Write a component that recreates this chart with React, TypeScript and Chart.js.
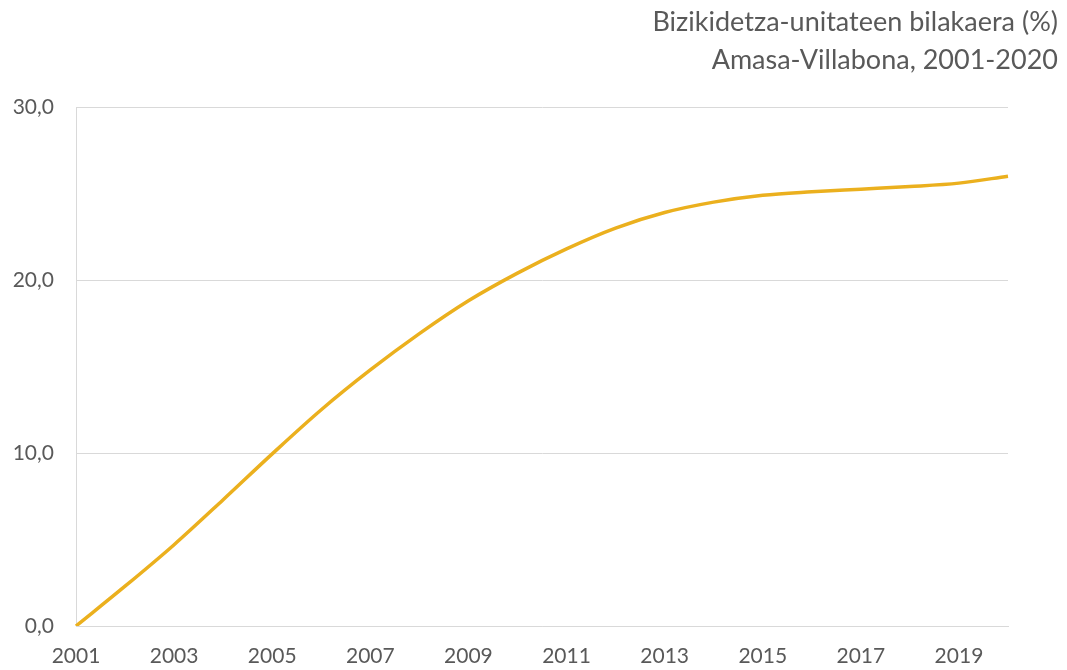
import React, { useEffect, useRef } from "react";
import { Chart, registerables } from "chart.js";

Chart.register(...registerables);

const years = [
  "2001", "2002", "2003", "2004", "2005", "2006", "2007", "2008", "2009", "2010",
  "2011", "2012", "2013", "2014", "2015", "2016", "2017", "2018", "2019", "2020",
];
const values = [
  0, 2.3, 4.7, 7.3, 9.95, 12.5, 14.8, 16.9, 18.8, 20.4,
  21.8, 23.0, 23.9, 24.5, 24.9, 25.1, 25.25, 25.4, 25.6, 26.0,
];
const titleLines = ["Bizikidetza-unitateen bilakaera (%)", "Amasa-Villabona, 2001-2020"];
const yTicks = [0, 10, 20, 30];

const FONT = "Lato, 'Open Sans', sans-serif";
const TEXT = "#595959";

const titlePlugin = {
  id: "rightTitle",
  afterDraw(chart: any) {
    const ctx = chart.ctx;
    ctx.save();
    ctx.fillStyle = TEXT;
    ctx.font = `27px ${FONT}`;
    ctx.textAlign = "right";
    ctx.textBaseline = "middle";
    ctx.fillText(titleLines[0], 1058, 22);
    ctx.fillText(titleLines[1], 1058, 60);
    ctx.restore();
  },
};

export default function App() {
  const ref = useRef<HTMLCanvasElement | null>(null);
  useEffect(() => {
    document.body.style.margin = "0";
    const canvas = ref.current!;
    const chart = new Chart(canvas, {
      type: "line",
      data: {
        labels: years,
        datasets: [
          {
            data: values,
            borderColor: "#EBB01E",
            borderWidth: 3.5,
            pointRadius: 0,
            fill: false,
            cubicInterpolationMode: "monotone",
          },
        ],
      },
      options: {
        animation: false,
        responsive: false,
        maintainAspectRatio: false,
        layout: { padding: { top: 107, right: 59, left: 0, bottom: 0 } },
        plugins: {
          legend: { display: false },
          tooltip: { enabled: false },
          title: { display: false },
        },
        scales: {
          x: {
            type: "category",
            offset: false,
            grid: { display: false, drawTicks: false },
            border: { display: true, color: "#D9D9D9", width: 1 },
            ticks: {
              autoSkip: false,
              maxRotation: 0,
              minRotation: 0,
              padding: 18,
              color: TEXT,
              font: { family: FONT, size: 21 },
              callback: (_v: any, i: number) => (i % 2 === 0 ? years[i] : ""),
            },
            afterFit: (s: any) => {
              s.height = 44;
            },
          },
          y: {
            min: 0,
            max: 30,
            afterBuildTicks: (s: any) => {
              s.ticks = yTicks.map((v) => ({ value: v }));
            },
            grid: { color: "#D9D9D9", lineWidth: 1, drawTicks: false },
            border: { display: true, color: "#D9D9D9", width: 1 },
            ticks: {
              padding: 22,
              color: TEXT,
              font: { family: FONT, size: 21 },
              callback: (v: any) => Number(v).toFixed(1).replace(".", ","),
            },
            afterFit: (s: any) => {
              s.width = 76;
            },
          },
        },
      },
      plugins: [titlePlugin],
    });
    return () => chart.destroy();
  }, []);
  return (
    <div style={{ width: 1067, height: 670 }}>
      <canvas ref={ref} width={1067} height={670} style={{ display: "block" }} />
    </div>
  );
}
